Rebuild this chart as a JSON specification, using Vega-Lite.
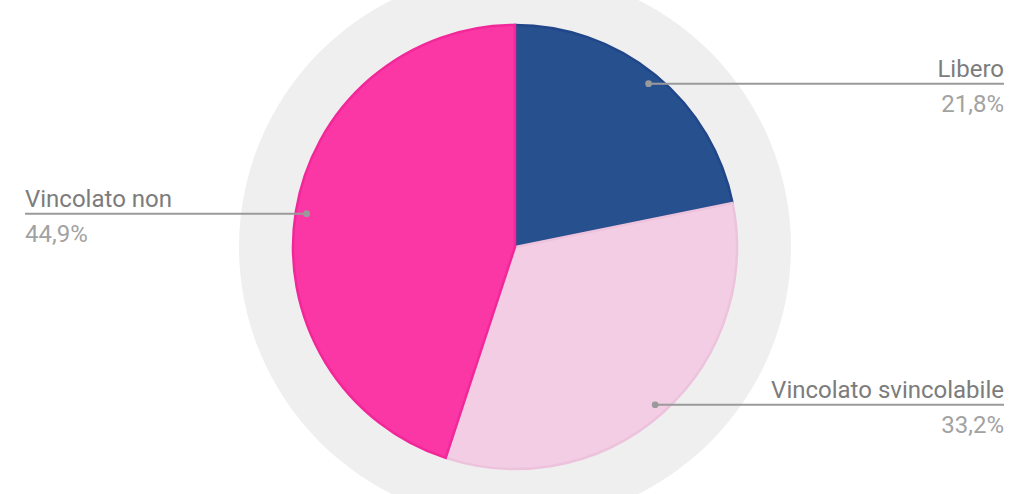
{
  "$schema": "https://vega.github.io/schema/vega-lite/v6.json",
  "width": 1030,
  "height": 494,
  "autosize": {"type": "none"},
  "padding": 0,
  "background": "white",
  "config": {"view": {"stroke": null}},
  "data": {"values": [
    {"label": "Libero", "pct": "21,8%", "value": 21.8, "order": 1},
    {"label": "Vincolato svincolabile", "pct": "33,2%", "value": 33.2, "order": 2},
    {"label": "Vincolato non", "pct": "44,9%", "value": 44.9, "order": 3}
  ]},
  "layer": [
    {
      "mark": {"type": "arc", "radius": 276, "color": "#efefef"},
      "encoding": {"theta": {"aggregate": "sum", "field": "value", "type": "quantitative"}}
    },
    {
      "mark": {"type": "arc", "radius": 222, "strokeWidth": 2.5},
      "encoding": {
        "theta": {"field": "value", "type": "quantitative", "stack": true},
        "order": {"field": "order", "type": "quantitative"},
        "color": {"field": "label", "type": "nominal", "legend": null,
          "scale": {"domain": ["Libero", "Vincolato svincolabile", "Vincolato non"], "range": ["#27508e", "#f2cde3", "#fa37a4"]}},
        "stroke": {"field": "label", "type": "nominal", "legend": null,
          "scale": {"domain": ["Libero", "Vincolato svincolabile", "Vincolato non"], "range": ["#21468a", "#edc2dc", "#f1279a"]}}
      }
    },
    {
      "transform": [
        {"joinaggregate": [{"op": "sum", "field": "value", "as": "total"}]},
        {"window": [{"op": "sum", "field": "value", "as": "cum"}], "sort": [{"field": "order"}], "frame": [null, 0]},
        {"calculate": "(datum.cum - datum.value / 2) / datum.total * 2 * PI", "as": "mid"},
        {"calculate": "211 * sin(datum.mid)", "as": "dx"},
        {"calculate": "-211 * cos(datum.mid)", "as": "dy"},
        {"calculate": "datum.dx > 0 ? 489 : -490", "as": "xe"}
      ],
      "layer": [
        {
          "mark": {"type": "rule", "color": "#9a9a9a", "strokeWidth": 2},
          "encoding": {
            "x": {"field": "dx", "type": "quantitative", "scale": {"domain": [-515, 515]}, "axis": null},
            "x2": {"field": "xe"},
            "y": {"field": "dy", "type": "quantitative", "scale": {"domain": [-247, 247], "reverse": true}, "axis": null}
          }
        },
        {
          "mark": {"type": "point", "filled": true, "color": "#9a9a9a", "size": 45, "opacity": 1},
          "encoding": {
            "x": {"field": "dx", "type": "quantitative", "scale": {"domain": [-515, 515]}, "axis": null},
            "y": {"field": "dy", "type": "quantitative", "scale": {"domain": [-247, 247], "reverse": true}, "axis": null}
          }
        },
        {
          "transform": [{"filter": "datum.dx > 0"}],
          "layer": [
            {
              "mark": {"type": "text", "align": "right", "baseline": "alphabetic", "dy": -7, "font": "Roboto", "fontSize": 24, "color": "#7c7c7c"},
              "encoding": {
                "x": {"field": "xe", "type": "quantitative", "scale": {"domain": [-515, 515]}, "axis": null},
                "y": {"field": "dy", "type": "quantitative", "scale": {"domain": [-247, 247], "reverse": true}, "axis": null},
                "text": {"field": "label"}
              }
            },
            {
              "mark": {"type": "text", "align": "right", "baseline": "alphabetic", "dy": 28, "font": "Roboto", "fontSize": 24, "color": "#a2a2a2"},
              "encoding": {
                "x": {"field": "xe", "type": "quantitative", "scale": {"domain": [-515, 515]}, "axis": null},
                "y": {"field": "dy", "type": "quantitative", "scale": {"domain": [-247, 247], "reverse": true}, "axis": null},
                "text": {"field": "pct"}
              }
            }
          ]
        },
        {
          "transform": [{"filter": "datum.dx <= 0"}],
          "layer": [
            {
              "mark": {"type": "text", "align": "left", "baseline": "alphabetic", "dy": -7, "font": "Roboto", "fontSize": 24, "color": "#7c7c7c"},
              "encoding": {
                "x": {"field": "xe", "type": "quantitative", "scale": {"domain": [-515, 515]}, "axis": null},
                "y": {"field": "dy", "type": "quantitative", "scale": {"domain": [-247, 247], "reverse": true}, "axis": null},
                "text": {"field": "label"}
              }
            },
            {
              "mark": {"type": "text", "align": "left", "baseline": "alphabetic", "dy": 28, "font": "Roboto", "fontSize": 24, "color": "#a2a2a2"},
              "encoding": {
                "x": {"field": "xe", "type": "quantitative", "scale": {"domain": [-515, 515]}, "axis": null},
                "y": {"field": "dy", "type": "quantitative", "scale": {"domain": [-247, 247], "reverse": true}, "axis": null},
                "text": {"field": "pct"}
              }
            }
          ]
        }
      ]
    }
  ],
  "resolve": {"scale": {"theta": "independent", "color": "independent", "stroke": "independent"}}
}
